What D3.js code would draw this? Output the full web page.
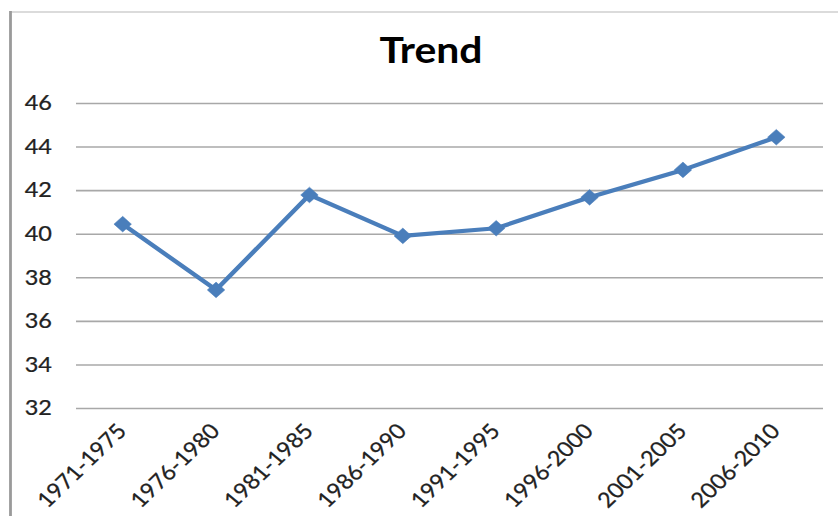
<!DOCTYPE html>
<html>
<head>
<meta charset="utf-8">
<script src="https://cdn.jsdelivr.net/npm/d3@7"></script>
<style>
  html, body { margin: 0; padding: 0; background: #fff; }
  svg { display: block; }
</style>
</head>
<body>
<svg id="chart" width="838" height="516"></svg>
<script>
// ---- data ----
const categories = ["1971-1975","1976-1980","1981-1985","1986-1990","1991-1995","1996-2000","2001-2005","2006-2010"];
const values = [40.44, 37.42, 41.78, 39.90, 40.25, 41.67, 42.93, 44.43];
const yTicks = [32, 34, 36, 38, 40, 42, 44, 46];
const title = "Trend";

// ---- layout ----
const W = 838, H = 516;
const sx = 1.12;                 // reference is horizontally stretched
const innerW = W / sx;
const plotLeft = 76 / sx, plotRight = 823 / sx;
const plotTop = 103, plotBottom = 408;
const blue = "#4A7EBB";
const font = "Lato, 'Liberation Sans', Arial, sans-serif";

const svg = d3.select("#chart");
svg.append("rect").attr("width", W).attr("height", H).attr("fill", "#fff");

const g = svg.append("g").attr("transform", `scale(${sx},1)`);

// frame lines
g.append("line").attr("x1", 10 / sx).attr("x2", innerW).attr("y1", 12).attr("y2", 12)
  .attr("stroke", "#cfcfcf").attr("stroke-width", 1.5);
g.append("line").attr("x1", 10.5 / sx).attr("x2", 10.5 / sx).attr("y1", 11).attr("y2", H)
  .attr("stroke", "#9a9a9a").attr("stroke-width", 2.8 / sx);

// title
g.append("text").attr("x", 431 / sx).attr("y", 63).attr("text-anchor", "middle")
  .attr("font-family", font).attr("font-weight", "bold").attr("font-size", 36.5)
  .attr("fill", "#000").text(title);

// scales
const x = d3.scalePoint().domain(categories).range([plotLeft, plotRight]).padding(0.5);
const y = d3.scaleLinear().domain([32, 46]).range([plotBottom, plotTop]);

// y axis with gridlines
const yAxis = g.append("g").attr("transform", `translate(${plotLeft},0)`)
  .call(d3.axisLeft(y).tickValues(yTicks).tickSize(-(plotRight - plotLeft)).tickPadding(21.5).tickFormat(d3.format("d")));
yAxis.select(".domain").remove();
yAxis.selectAll(".tick line").attr("stroke", "#a8a8a8").attr("stroke-width", 1.6);
yAxis.selectAll(".tick text").attr("font-family", font).attr("font-size", 21).attr("fill", "#222")
  .attr("stroke", "#222").attr("stroke-width", 0.25);

// x axis labels
const xAxis = g.append("g").attr("transform", `translate(0,${plotBottom})`)
  .call(d3.axisBottom(x).tickSize(0));
xAxis.select(".domain").remove();
xAxis.selectAll(".tick text")
  .attr("font-family", font).attr("font-size", 21).attr("fill", "#222")
  .attr("stroke", "#222").attr("stroke-width", 0.25)
  .attr("text-anchor", "end").attr("x", 0).attr("y", 0).attr("dy", 0)
  .attr("transform", `translate(${4.5 / sx},24) rotate(-47)`);

// line
const line = d3.line().x((d, i) => x(categories[i])).y(d => y(d));
g.append("path").datum(values).attr("d", line)
  .attr("fill", "none").attr("stroke", blue).attr("stroke-width", 4.2)
  .attr("stroke-linejoin", "round");

// diamond markers
const r = 7.8;
g.selectAll(".marker").data(values).enter().append("path")
  .attr("class", "marker")
  .attr("d", (d, i) => {
    const cx = x(categories[i]), cy = y(d);
    return `M${cx},${cy - r}L${cx + r},${cy}L${cx},${cy + r}L${cx - r},${cy}Z`;
  })
  .attr("fill", blue).attr("stroke", blue).attr("stroke-width", 0.5);
</script>
</body>
</html>
